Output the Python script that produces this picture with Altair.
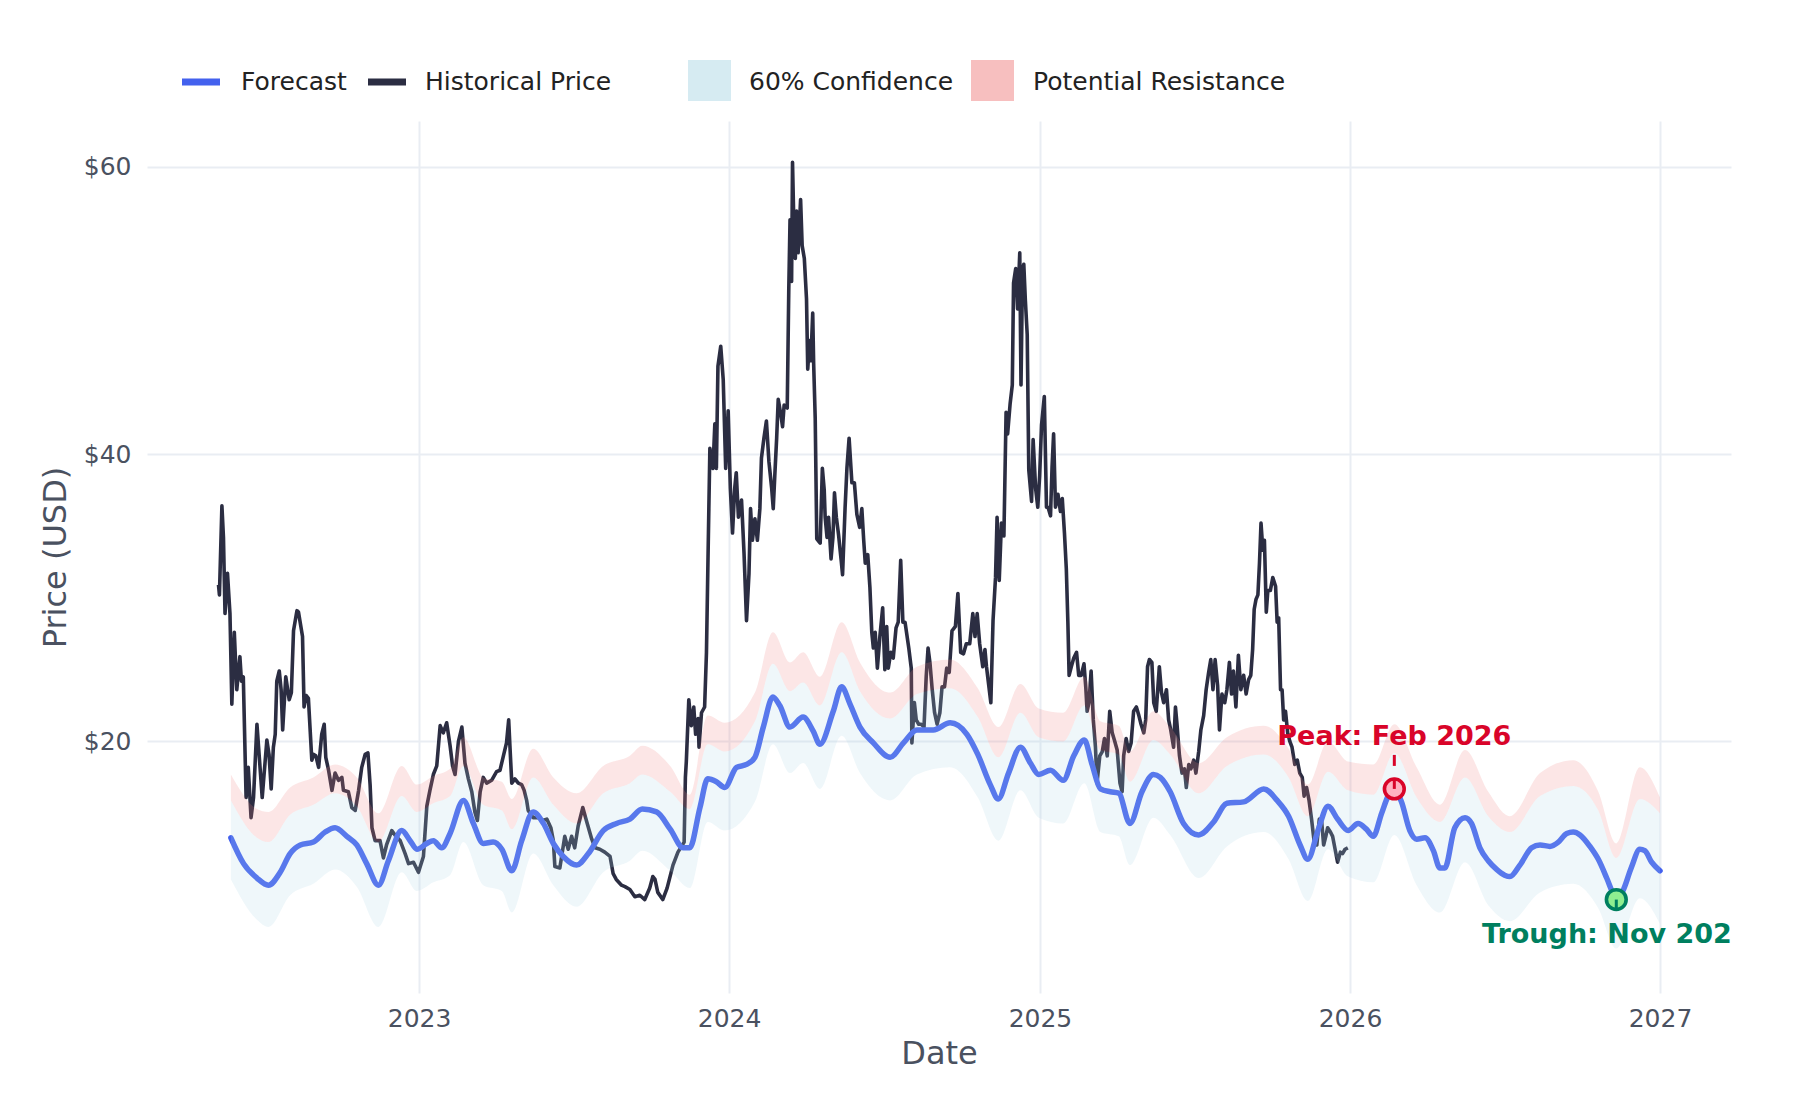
import altair as alt
import pandas as pd
from datetime import datetime, timedelta

# ---------------- data ----------------
# Historical price: fractions of the year, per year, and values (USD)
h22_t = [.353, .356, .364, .369, .374, .382, .390, .396, .404, .412,
         .422, .427, .433, .442, .449, .458, .466, .477, .486, .494,
         .509, .516, .523, .530, .536, .541, .549, .555, .560, .570,
         .581, .588, .595, .606, .611, .624, .629, .636, .643, .654,
         .660, .667, .676, .686, .694, .699, .708, .719, .729, .740,
         .751, .756, .772, .783, .794, .805, .815, .826, .835, .842,
         .848, .858, .874, .885, .895, .912, .925, .939, .955, .966,
         .982, .998]
h22_v = [30.9, 30.2, 36.4, 34.2, 28.9, 31.7, 28.9, 22.6, 27.6, 23.6,
         25.9, 24.2, 24.5, 16.1, 18.2, 14.7, 16.1, 21.2, 18.5, 16.1,
         20.1, 19.1, 16.7, 19.6, 20.5, 24.2, 24.9, 23.6, 20.8, 24.5,
         22.9, 23.4, 27.7, 29.1, 29.0, 27.3, 22.4, 23.2, 23.0, 18.7,
         19.1, 19.0, 18.2, 20.5, 21.2, 18.9, 18.0, 16.6, 17.8, 17.3,
         17.5, 16.6, 16.5, 15.4, 15.2, 16.6, 18.2, 19.1, 19.2, 17.0,
         14.0, 13.1, 13.1, 11.9, 12.8, 13.8, 13.4, 13.1, 12.2, 11.5,
         11.6, 10.9]

h23_t = [.014, .025, .035, .046, .057, .068, .078, .089, .100, .108,
         .116, .127, .138, .148, .159, .170, .180, .188, .197, .207,
         .218, .234, .250, .261, .272, .282, .289, .293, .299, .309,
         .320, .331, .339, .347, .352, .368, .385, .399, .412, .425,
         .433, .438, .454, .470, .481, .492, .502, .513, .528, .541,
         .557, .568, .583, .599, .616, .626, .636, .653, .664, .680,
         .696, .712, .728, .744, .754, .761, .770, .786, .800, .819,
         .835, .855, .859, .862, .870, .878, .886, .892, .900, .903,
         .911, .921, .927, .932, .938, .943, .948, .954, .959, .964,
         .973, .981, .989, .997]
h23_v = [12.0, 15.5, 16.6, 17.7, 18.3, 21.1, 20.6, 21.3, 19.7, 18.3,
         17.7, 20.0, 21.0, 18.5, 17.4, 16.5, 15.1, 14.5, 16.5, 17.5,
         17.1, 17.3, 17.9, 18.0, 19.0, 19.9, 21.5, 19.7, 17.1, 17.4,
         17.1, 17.0, 16.6, 15.9, 15.2, 14.7, 14.7, 14.5, 14.6, 14.0,
         13.1, 11.3, 11.2, 13.4, 12.5, 13.4, 12.6, 14.1, 15.4, 14.4,
         13.2, 12.6, 12.5, 12.3, 12.0, 10.8, 10.4, 10.0, 9.9, 9.7,
         9.2, 9.3, 9.0, 9.8, 10.6, 10.4, 9.5, 9.0, 9.8, 11.4,
         12.3, 13.0, 17.5, 18.6, 22.9, 21.1, 22.4, 20.5, 21.6, 19.6,
         22.0, 22.4, 26.2, 32.8, 40.4, 39.7, 39.0, 42.1, 39.0, 46.1,
         47.5, 45.2, 39.0, 43.0]

h24_t = [.004, .011, .018, .023, .030, .040, .048, .056, .064, .069,
         .075, .083, .091, .099, .104, .112, .120, .128, .137, .142,
         .147, .153, .158, .166, .172, .177, .187, .192, .196, .201,
         .204, .208, .213, .217, .222, .230, .235, .242, .249, .253,
         .259, .263, .269, .272, .277, .282, .293, .300, .306, .309,
         .315, .320, .328, .334, .339, .345, .352, .361, .365, .373,
         .379, .386, .395, .403, .411, .420, .427, .433, .438, .446,
         .453, .459, .464, .470, .477, .485, .494, .501, .507, .512,
         .520, .528, .537, .544, .552, .559, .566, .578, .586, .588,
         .596, .602, .610, .618, .627, .634, .640, .646, .653, .661,
         .669, .678, .685, .693, .700, .708, .717, .728, .736, .745,
         .754, .763, .774, .784, .791, .798, .806, .816, .823, .828,
         .842, .849, .857, .862, .869, .876, .884, .891, .896, .904,
         .911, .915, .922, .928, .935, .939, .944, .948, .953, .959,
         .964, .973, .978, .986, .993, .999]
h24_v = [37.6, 34.5, 37.6, 38.7, 35.6, 36.8, 33.1, 28.4, 31.7, 36.2,
         34.0, 35.5, 34.0, 36.2, 39.7, 41.1, 42.3, 39.5, 37.6, 36.2,
         38.5, 41.1, 43.8, 42.8, 41.9, 43.4, 43.2, 51.5, 56.3, 52.0,
         60.3, 56.3, 53.6, 56.9, 54.0, 57.7, 54.5, 53.6, 50.8, 45.9,
         47.9, 46.5, 49.8, 46.3, 42.5, 34.1, 33.8, 39.0, 37.5, 35.6,
         34.2, 35.6, 32.7, 34.2, 37.3, 35.6, 34.4, 32.5, 31.6, 36.2,
         39.0, 41.1, 38.0, 38.0, 35.8, 34.9, 36.2, 34.0, 32.4, 33.0,
         30.7, 27.6, 26.5, 27.6, 25.1, 27.3, 29.3, 25.0, 28.0, 25.1,
         26.2, 25.8, 27.9, 28.3, 32.6, 28.3, 28.3, 26.5, 25.1, 19.9,
         22.7, 21.5, 21.2, 21.2, 21.0, 24.5, 26.5, 25.5, 23.7, 22.0,
         21.2, 22.0, 23.8, 23.8, 25.1, 24.8, 27.7, 28.0, 30.3, 26.2,
         26.1, 26.8, 26.8, 28.9, 27.3, 28.9, 26.8, 25.2, 26.4, 25.2,
         22.7, 28.4, 31.4, 35.6, 31.2, 35.2, 34.3, 42.9, 41.4, 43.5,
         44.8, 51.9, 52.9, 50.1, 54.0, 44.8, 52.9, 53.2, 50.7, 48.3,
         38.9, 36.7, 41.0, 37.6, 36.3, 38.5]

h25_t = [.005, .014, .021, .026, .034, .039, .044, .050, .058, .066,
         .072, .079, .085, .090, .094, .101, .109, .118, .125, .133,
         .142, .148, .152, .158, .165, .172, .179, .184, .193, .201,
         .208, .217, .225, .233, .240, .249, .258, .265, .270, .278,
         .286, .294, .302, .311, .319, .326, .335, .341, .347, .353,
         .361, .367, .375, .385, .392, .399, .408, .415, .421, .431,
         .437, .442, .450, .458, .466, .472, .480, .487, .496, .503,
         .512, .519, .528, .536, .544, .551, .558, .565, .573, .579,
         .587, .596, .603, .611, .618, .624, .632, .640, .648, .657,
         .665, .673, .680, .686, .691, .697, .703, .708, .713, .719,
         .724, .730, .735, .743, .751, .760, .765, .770, .776, .781,
         .786, .792, .799, .806, .813, .822, .830, .838, .846, .852,
         .860, .868, .876, .884, .893, .901, .908, .915, .922, .928,
         .937, .944, .952, .960, .969, .976, .984, .993]
h25_v = [42.0, 44.0, 36.3, 36.3, 35.7, 39.1, 41.4, 36.3, 37.2, 36.0,
         36.9, 34.5, 32.0, 28.3, 24.6, 25.2, 25.8, 26.2, 24.6, 24.6,
         25.4, 23.7, 22.1, 22.7, 24.9, 21.5, 19.6, 17.1, 19.0, 19.3,
         20.2, 19.0, 22.1, 20.6, 20.1, 19.4, 17.1, 16.5, 19.0, 20.2,
         19.3, 19.9, 22.1, 22.4, 21.8, 21.2, 20.6, 21.5, 25.2, 25.7,
         25.5, 22.7, 22.1, 25.2, 23.4, 22.7, 23.6, 21.5, 20.9, 19.6,
         22.4, 21.2, 19.0, 17.8, 18.1, 16.8, 18.4, 18.1, 18.7, 17.8,
         19.3, 20.8, 21.8, 23.6, 24.8, 25.7, 23.6, 25.7, 23.9, 20.8,
         23.3, 22.7, 23.6, 25.5, 23.3, 24.9, 22.4, 26.0, 23.6, 24.6,
         23.3, 24.3, 24.6, 26.4, 29.2, 29.9, 30.2, 32.4, 35.2, 33.3,
         34.0, 29.0, 30.5, 30.5, 31.4, 30.8, 28.3, 28.6, 23.6, 23.6,
         21.5, 22.1, 20.6, 20.0, 19.6, 18.4, 18.7, 17.8, 17.5, 16.2,
         16.8, 15.9, 14.6, 13.1, 12.8, 14.6, 14.6, 12.8, 13.4, 14.0,
         13.7, 13.4, 12.5, 11.6, 12.3, 12.2, 12.5, 12.6]

# Forecast (decimal years) and values
fc_t = [2022.393, 2022.434, 2022.477, 2022.514, 2022.552, 2022.584, 2022.617, 2022.659, 2022.697, 2022.729,
        2022.767, 2022.799, 2022.831, 2022.869, 2022.901, 2022.944, 2022.971, 2022.993, 2023.025, 2023.046,
        2023.073, 2023.100, 2023.143, 2023.175, 2023.207, 2023.239, 2023.267, 2023.299, 2023.331, 2023.368,
        2023.401, 2023.433, 2023.465, 2023.508, 2023.546, 2023.594, 2023.637, 2023.680, 2023.720, 2023.766,
        2023.810, 2023.852, 2023.873, 2023.906, 2023.931, 2023.959, 2023.986, 2024.024, 2024.056, 2024.083,
        2024.110, 2024.141, 2024.163, 2024.196, 2024.238, 2024.271, 2024.292, 2024.335, 2024.362, 2024.389,
        2024.421, 2024.464, 2024.518, 2024.561, 2024.604, 2024.657, 2024.711, 2024.765, 2024.800, 2024.840,
        2024.866, 2024.899, 2024.937, 2024.969, 2024.996, 2025.034, 2025.075, 2025.109, 2025.143, 2025.168,
        2025.195, 2025.227, 2025.254, 2025.290, 2025.329, 2025.366, 2025.388, 2025.420, 2025.463, 2025.512,
        2025.560, 2025.603, 2025.657, 2025.722, 2025.765, 2025.802, 2025.839, 2025.864, 2025.898, 2025.929,
        2025.960, 2025.994, 2026.026, 2026.053, 2026.075, 2026.102, 2026.123, 2026.143, 2026.166, 2026.193,
        2026.215, 2026.242, 2026.269, 2026.290, 2026.306, 2026.338, 2026.371, 2026.392, 2026.419, 2026.446,
        2026.473, 2026.499, 2026.516, 2026.548, 2026.586, 2026.613, 2026.645, 2026.672, 2026.699, 2026.720,
        2026.742, 2026.774, 2026.801, 2026.828, 2026.849, 2026.859, 2026.880, 2026.907, 2026.935, 2026.951,
        2026.973, 2027.000]
fc_v = [13.3, 11.5, 10.5, 10.0, 10.9, 12.2, 12.8, 13.0, 13.7, 14.0,
        13.4, 12.8, 11.5, 10.0, 11.7, 13.8, 13.1, 12.5, 12.9, 13.1,
        12.6, 13.6, 15.9, 14.3, 12.9, 13.0, 12.5, 11.0, 13.1, 15.1,
        14.3, 12.9, 12.0, 11.4, 12.2, 13.8, 14.3, 14.6, 15.3, 15.1,
        13.9, 12.6, 12.6, 15.4, 17.4, 17.2, 16.8, 18.2, 18.4, 18.9,
        21.0, 23.1, 22.5, 21.0, 21.7, 20.7, 19.8, 22.1, 23.8, 22.6,
        21.0, 19.9, 18.9, 19.9, 20.8, 20.8, 21.3, 20.5, 19.1, 17.0,
        16.0, 17.8, 19.6, 18.5, 17.7, 18.0, 17.3, 19.0, 20.1, 18.4,
        16.7, 16.5, 16.4, 14.3, 16.5, 17.7, 17.5, 16.5, 14.3, 13.5,
        14.4, 15.7, 15.8, 16.7, 15.9, 14.8, 12.8, 11.8, 13.9, 15.5,
        14.6, 13.8, 14.3, 13.9, 13.4, 15.0, 16.2, 16.7, 15.8, 13.8,
        13.2, 13.3, 12.4, 11.2, 11.2, 14.0, 14.7, 14.3, 12.6, 11.7,
        11.1, 10.7, 10.6, 11.4, 12.6, 12.8, 12.7, 13.0, 13.6, 13.7,
        13.5, 12.7, 11.8, 10.5, 9.4, 9.0, 9.6, 11.2, 12.5, 12.4,
        11.6, 11.0]

# Bands: 60% confidence (lower..upper) and potential resistance (upper..top)
band_t = [2022.393, 2022.477, 2022.514, 2022.584, 2022.659, 2022.729, 2022.799, 2022.869, 2022.944, 2022.993,
          2023.046, 2023.100, 2023.143, 2023.207, 2023.267, 2023.299, 2023.368, 2023.433, 2023.508, 2023.594,
          2023.680, 2023.720, 2023.810, 2023.873, 2023.931, 2023.986, 2024.083, 2024.141, 2024.196, 2024.238,
          2024.292, 2024.362, 2024.421, 2024.518, 2024.604, 2024.711, 2024.800, 2024.866, 2024.937, 2024.996,
          2025.075, 2025.143, 2025.195, 2025.254, 2025.290, 2025.366, 2025.420, 2025.512, 2025.603, 2025.722,
          2025.802, 2025.864, 2025.929, 2025.994, 2026.075, 2026.143, 2026.215, 2026.290, 2026.371, 2026.446,
          2026.516, 2026.613, 2026.720, 2026.801, 2026.859, 2026.935, 2027.000]
band_lo = [10.4, 7.6, 7.1, 9.3, 10.1, 11.1, 9.9, 7.1, 10.9, 9.6,
           10.2, 10.7, 13.0, 10.0, 9.6, 8.1, 12.2, 10.0, 8.5, 10.9,
           11.7, 12.4, 11.0, 9.8, 14.4, 13.8, 15.8, 19.8, 17.8, 18.5,
           16.7, 20.4, 17.8, 15.9, 17.7, 18.2, 16.1, 13.1, 16.6, 14.7,
           14.3, 17.1, 13.7, 13.4, 11.4, 14.7, 13.5, 10.5, 12.7, 13.7,
           11.8, 8.9, 12.5, 10.6, 10.2, 13.5, 10.0, 8.1, 11.6, 8.6,
           7.5, 9.5, 10.1, 8.4, 5.6, 9.1, 7.3]
band_up = [15.9, 13.3, 13.0, 14.9, 15.6, 16.4, 15.5, 13.0, 16.2, 15.1,
           15.7, 16.2, 18.3, 15.6, 15.2, 13.9, 17.5, 15.6, 14.3, 16.4,
           17.1, 17.7, 16.5, 15.3, 19.8, 19.3, 21.4, 25.4, 23.5, 24.1,
           22.5, 26.2, 23.5, 21.6, 23.3, 23.7, 21.7, 18.9, 22.0, 20.3,
           20.0, 22.5, 19.4, 19.1, 17.2, 20.1, 19.1, 16.4, 18.3, 19.1,
           17.5, 14.8, 17.9, 16.6, 16.3, 19.2, 16.1, 14.4, 17.5, 14.8,
           13.7, 16.2, 16.9, 15.2, 11.9, 16.0, 15.0]
band_top = [17.7, 15.3, 15.1, 16.8, 17.5, 18.4, 17.5, 15.0, 18.3, 17.0,
            17.6, 18.1, 20.3, 17.5, 17.2, 16.0, 19.5, 17.5, 16.4, 18.3,
            19.0, 19.7, 18.3, 16.3, 21.8, 21.3, 23.4, 27.6, 25.5, 26.2,
            24.5, 28.3, 25.5, 23.4, 25.2, 25.7, 23.7, 21.0, 24.0, 22.3,
            22.0, 24.5, 21.4, 21.1, 19.3, 22.1, 21.0, 18.5, 20.3, 21.1,
            19.5, 17.0, 20.0, 18.6, 18.4, 21.2, 18.2, 15.6, 19.4, 16.5,
            14.8, 17.8, 18.7, 16.5, 12.9, 18.2, 16.1]

# Annotated extremes
peak_t, peak_v, peak_label = 2026.143, 16.7, "Peak: Feb 2026"
trough_t, trough_v, trough_label = 2026.859, 9.0, "Trough: Nov 2026"

legend_labels = ["Forecast", "Historical Price", "60% Confidence", "Potential Resistance"]

# ---------------- colours / style ----------------
C_FC = "#4361ee"
C_HIST = "#2b2d42"
C_CONF = "#add8e6"
C_RES = "#f08080"
C_PEAK = "#d90429"
C_TROUGH = "#007f5f"
TXT = "#4a5160"
FONT = "DejaVu Sans"


def to_dt(t):
    y = int(t)
    start = datetime(y, 1, 1)
    days = (datetime(y + 1, 1, 1) - start).days
    return start + timedelta(days=(t - y) * days)


hist_t = ([2022 + f for f in h22_t] + [2023 + f for f in h23_t]
          + [2024 + f for f in h24_t] + [2025 + f for f in h25_t])
hist_v = h22_v + h23_v + h24_v + h25_v

hist_df = pd.DataFrame({"date": [to_dt(t) for t in hist_t], "price": hist_v})
fc_df = pd.DataFrame({"date": [to_dt(t) for t in fc_t], "forecast": fc_v})
band_df = pd.DataFrame({"date": [to_dt(t) for t in band_t], "lo": band_lo,
                        "up": band_up, "top": band_top})
peak_df = pd.DataFrame({"date": [to_dt(peak_t)], "v": [peak_v], "label": [peak_label]})
trough_df = pd.DataFrame({"date": [to_dt(trough_t)], "v": [trough_v], "label": [trough_label]})
one = pd.DataFrame({"k": [0]})

x_scale = alt.Scale(domain=[alt.DateTime(year=2022, month=2, date=14, hours=16),
                            alt.DateTime(year=2027, month=3, date=25, hours=14)], nice=False)
y_scale = alt.Scale(domain=[2.5, 63.17], nice=False, zero=False)

x_axis = alt.Axis(values=[alt.DateTime(year=y, month=1, date=1) for y in range(2023, 2028)],
                  format="%Y", labelPadding=13, titlePadding=7, labelFlush=False)
y_axis = alt.Axis(values=[20, 40, 60], format="$.0f", labelPadding=16, titlePadding=11)


def X(f):
    return alt.X(f"{f}:T", scale=x_scale, axis=x_axis, title="Date")


def Y(f):
    return alt.Y(f"{f}:Q", scale=y_scale, axis=y_axis, title="Price (USD)")


hist = alt.Chart(hist_df).mark_line(color=C_HIST, strokeWidth=3.6, strokeJoin="round").encode(
    x=X("date"), y=Y("price"))
fc = alt.Chart(fc_df).mark_line(color=C_FC, strokeWidth=5.5, strokeJoin="round", strokeCap="round",
                                interpolate="monotone").encode(
    x=X("date"), y=Y("forecast"))
conf = alt.Chart(band_df).mark_area(color=C_CONF, opacity=0.2, interpolate="monotone").encode(
    x=X("date"), y=Y("lo"), y2=alt.Y2("up"))
res = alt.Chart(band_df).mark_area(color=C_RES, opacity=0.2, interpolate="monotone").encode(
    x=X("date"), y=Y("up"), y2=alt.Y2("top"))

# annotations
peak_dash = alt.Chart(peak_df).mark_rule(color=C_PEAK, strokeWidth=3, yOffset=-34, y2Offset=-23).encode(
    x=X("date"), y=Y("v"), y2=alt.Y2("v"))
peak_pt = alt.Chart(peak_df).mark_point(shape="circle", filled=True, fill="#ffb3c1", stroke=C_PEAK,
                                        strokeWidth=3.6, size=390, opacity=1).encode(x=X("date"), y=Y("v"))
peak_in = alt.Chart(peak_df).mark_rule(color=C_PEAK, strokeWidth=3, yOffset=-11, y2Offset=0).encode(
    x=X("date"), y=Y("v"), y2=alt.Y2("v"))
peak_txt = alt.Chart(peak_df).mark_text(dy=-44, baseline="alphabetic", align="center", fontSize=27,
                                        fontWeight="bold", color=C_PEAK).encode(
    x=X("date"), y=Y("v"), text="label:N")

trough_pt = alt.Chart(trough_df).mark_point(shape="circle", filled=True, fill="#90ee90", stroke=C_TROUGH,
                                            strokeWidth=3.6, size=390, opacity=1).encode(x=X("date"), y=Y("v"))
trough_in = alt.Chart(trough_df).mark_rule(color=C_TROUGH, strokeWidth=3, yOffset=0, y2Offset=11).encode(
    x=X("date"), y=Y("v"), y2=alt.Y2("v"))
trough_txt = alt.Chart(trough_df).mark_text(dy=43, baseline="alphabetic", align="center", fontSize=27,
                                            fontWeight="bold", color=C_TROUGH, clip=True).encode(
    x=X("date"), y=Y("v"), text="label:N")

# legend (drawn manually, above the plot area)
LEG_Y = -39


def leg_line(x0, x1, color):
    return alt.Chart(one).mark_rule(color=color, strokeWidth=7).encode(
        x=alt.value(x0), x2=alt.value(x1), y=alt.value(LEG_Y), y2=alt.value(LEG_Y))


def leg_box(x0, x1, color):
    return alt.Chart(one).mark_rect(color=color, opacity=0.5).encode(
        x=alt.value(x0), x2=alt.value(x1), y=alt.value(-61), y2=alt.value(-20))


def leg_text(x0, label):
    return alt.Chart(one).mark_text(align="left", baseline="middle", fontSize=25, color="#222222").encode(
        x=alt.value(x0), y=alt.value(LEG_Y), text=alt.value(label))


legend = [
    leg_line(35, 73, C_FC), leg_text(94, legend_labels[0]),
    leg_line(221, 259, C_HIST), leg_text(278, legend_labels[1]),
    leg_box(541, 584, C_CONF), leg_text(602, legend_labels[2]),
    leg_box(824, 867, C_RES), leg_text(886, legend_labels[3]),
]

chart = alt.layer(
    hist, fc, conf, res,
    peak_dash, peak_pt, peak_in, peak_txt,
    trough_pt, trough_in, trough_txt,
    *legend
).properties(
    width=1584, height=872,
    autosize=alt.AutoSizeParams(type="none"),
    padding={"left": 139, "top": 113, "right": 50, "bottom": 80},
).configure(
    font=FONT, background="white"
).configure_view(
    stroke="transparent"
).configure_axis(
    grid=True, gridColor="#e9edf3", gridWidth=2, domain=False, ticks=False,
    labelFontSize=25, labelColor=TXT, labelFont=FONT,
    titleFontSize=32, titleColor=TXT, titleFont=FONT, titleFontWeight="normal",
)

chart.save("out.html", embed_options={"renderer": "svg", "actions": False})
